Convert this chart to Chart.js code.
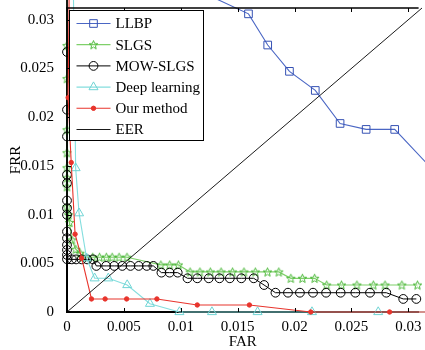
<!DOCTYPE html>
<html>
<head>
<meta charset="utf-8">
<script src="https://cdn.jsdelivr.net/npm/chart.js@4.4.0/dist/chart.umd.min.js"></script>
<style>
html, body { margin: 0; padding: 0; background: #fff; overflow: hidden; }
#wrap { width: 425px; height: 350px; position: relative; }
</style>
</head>
<body>
<div id="wrap"><canvas id="roc"></canvas></div>
<script>
// ---------- data ----------
var seriesNames = ['LLBP', 'SLGS', 'MOW-SLGS', 'Deep learning', 'Our method', 'EER'];

var llbpFar = [0.013, 0.01595, 0.01764, 0.01955, 0.02182, 0.0240, 0.02629, 0.0288, 0.0315];
var llbpFrr = [0.0322, 0.0306, 0.0274, 0.0247, 0.02274, 0.01935, 0.01874, 0.01874, 0.0154];

var slgsFar = [0, 0, 0, 0, 0, 0, 0, 0, 0,
	0.00014, 0.00022, 0.00043, 0.00077, 0.00114,
	0.0014, 0.00226, 0.00286, 0.00346, 0.00397, 0.00458, 0.00527,
	0.00825, 0.00902, 0.00979,
	0.01082, 0.01168, 0.0126, 0.01354, 0.01455, 0.01555, 0.01655, 0.01762, 0.01861,
	0.01967, 0.02069, 0.02176,
	0.02282, 0.02412, 0.02548, 0.02692, 0.02795, 0.02943, 0.0308];
var slgsFrr = [0.034, 0.02734, 0.02395, 0.0187, 0.01634, 0.0148, 0.01377, 0.01285, 0.01079,
	0.00997, 0.00918, 0.0074, 0.00644, 0.00603,
	0.00562, 0.00562, 0.00562, 0.00562, 0.00562, 0.00562, 0.00562,
	0.00483, 0.00483, 0.00483,
	0.00411, 0.00411, 0.00411, 0.00411, 0.00411, 0.00411, 0.00411, 0.00411, 0.00411,
	0.00346, 0.00346, 0.00346,
	0.00277, 0.00277, 0.00277, 0.00277, 0.00277, 0.00277, 0.00277];

var mowFar = [0, 0, 0, 0, 0, 0, 0, 0, 0, 0, 0, 0, 0, 0, 0,
	0.00043, 0.0008, 0.00129, 0.00177, 0.00229,
	0.00258, 0.00344, 0.00415, 0.00486, 0.00558, 0.0063, 0.00701, 0.00759,
	0.0083, 0.00902, 0.00973,
	0.01059, 0.01145, 0.01246, 0.0134, 0.01431, 0.01532, 0.01641,
	0.01732,
	0.01832, 0.01942, 0.02047, 0.02162, 0.02277, 0.02405, 0.02534, 0.02663, 0.02806,
	0.02955, 0.0307];
var mowFrr = [0.034, 0.02669, 0.02076, 0.01802, 0.01408, 0.01323, 0.01144, 0.01066, 0.00997, 0.00825, 0.00757, 0.00689, 0.00637, 0.00586, 0.00542,
	0.0054, 0.0054, 0.0054, 0.0054, 0.0054,
	0.00473, 0.00473, 0.00473, 0.00473, 0.00473, 0.00473, 0.00473, 0.00473,
	0.00404, 0.00404, 0.00404,
	0.00346, 0.00346, 0.00346, 0.00346, 0.00346, 0.00346, 0.00346,
	0.00277,
	0.00198, 0.00198, 0.00198, 0.00198, 0.00198, 0.00198, 0.00198, 0.00198, 0.00198,
	0.00134, 0.00134];

var deepFar = [0.00055, 0.00076, 0.00106, 0.00172, 0.00243, 0.00363, 0.00529, 0.00729, 0.00988, 0.01274, 0.01675, 0.02153, 0.02735, 0.0335];
var deepFrr = [0.034, 0.01477, 0.01014, 0.00552, 0.00346, 0.00346, 0.00277, 0.00085, 0, 0, 0, 0, 0, 0];

var oursFar = [0.0002, 0.0001, 0.00037, 0.00071, 0.00129, 0.00215, 0.00335, 0.00524, 0.0079, 0.01145, 0.01603, 0.02142, 0.02835, 0.0335];
var oursFrr = [0.034, 0.022, 0.01534, 0.00799, 0.00552, 0.00134, 0.00134, 0.00134, 0.00134, 0.00072, 0.00072, 0, 0, 0];

var eerFar = [0, 0.0312];
var eerFrr = [0, 0.0312];

var axisTicks = [0, 0.005, 0.01, 0.015, 0.02, 0.025, 0.03];

// ---------- helpers ----------
function toPoints(xs, ys) {
	var pts = [];
	for (var i = 0; i < xs.length; i++) pts.push({ x: xs[i], y: ys[i] });
	return pts;
}

function makeStar(color) {
	var c = document.createElement('canvas');
	c.width = 11; c.height = 11;
	var g = c.getContext('2d');
	g.beginPath();
	for (var k = 0; k < 10; k++) {
		var r = k % 2 ? 2 : 4.6;
		var a = -Math.PI / 2 + k * Math.PI / 5;
		var px = 5.5 + r * Math.cos(a), py = 5.9 + r * Math.sin(a);
		if (k) g.lineTo(px, py); else g.moveTo(px, py);
	}
	g.closePath();
	g.strokeStyle = color;
	g.lineWidth = 1;
	g.stroke();
	return c;
}

function fmtTick(v) {
	return String(+Number(v).toFixed(4));
}

var FONT = 'Liberation Serif';
var starImg = makeStar('#4cb83a');

// inward box ticks + top edge, like the original axes
var boxAxes = {
	id: 'boxAxes',
	afterDatasetsDraw: function(chart) {
		var ctx = chart.ctx, a = chart.chartArea;
		var xs = chart.scales.x, ys = chart.scales.y;
		ctx.save();
		ctx.strokeStyle = '#000';
		ctx.lineWidth = 1.6;
		ctx.beginPath();
		ctx.moveTo(a.left - 1, a.top);
		ctx.lineTo(a.right, a.top);
		ctx.stroke();
		ctx.lineWidth = 1;
		axisTicks.forEach(function(t) {
			var px = Math.round(xs.getPixelForValue(t)) + 0.5;
			ctx.beginPath();
			ctx.moveTo(px, a.bottom); ctx.lineTo(px, a.bottom - 4);
			ctx.moveTo(px, a.top); ctx.lineTo(px, a.top + 4);
			ctx.stroke();
			var py = Math.round(ys.getPixelForValue(t)) + 0.5;
			ctx.beginPath();
			ctx.moveTo(a.left, py); ctx.lineTo(a.left + 4, py);
			ctx.stroke();
		});
		ctx.restore();
	}
};

// framed legend in the upper left corner
var boxLegend = {
	id: 'boxLegend',
	afterDraw: function(chart) {
		var ctx = chart.ctx;
		var bx = 69.5, by = 10.5, bw = 134, bh = 130;
		ctx.save();
		ctx.fillStyle = '#fff';
		ctx.fillRect(bx, by, bw, bh);
		ctx.strokeStyle = '#000';
		ctx.lineWidth = 1;
		ctx.strokeRect(bx, by, bw, bh);
		ctx.font = '15px "' + FONT + '"';
		ctx.textBaseline = 'middle';
		chart.data.datasets.forEach(function(ds, i) {
			var y = by + 13 + i * 21.2;
			ctx.strokeStyle = ds.borderColor;
			ctx.lineWidth = ds.borderWidth;
			ctx.beginPath();
			ctx.moveTo(bx + 7, y); ctx.lineTo(bx + 41, y);
			ctx.stroke();
			if (ds.pointRadius > 0) {
				ctx.strokeStyle = ds.pointBorderColor;
				ctx.fillStyle = ds.pointBackgroundColor;
				ctx.lineWidth = 1;
				Chart.helpers.drawPoint(ctx, { pointStyle: ds.pointStyle, radius: ds.pointRadius, borderWidth: 1, rotation: 0 }, bx + 24, y);
			}
			ctx.fillStyle = '#000';
			ctx.fillText(ds.label, bx + 46, y + 1);
		});
		ctx.restore();
	}
};

function series(idx, xs, ys, line, mark, fill, style, radius, width, order) {
	return {
		label: seriesNames[idx],
		data: toPoints(xs, ys),
		borderColor: line,
		borderWidth: width,
		pointBorderColor: mark,
		pointBackgroundColor: fill,
		pointStyle: style,
		pointRadius: radius,
		pointBorderWidth: 1,
		tension: 0,
		clip: false,
		order: order
	};
}

var roc_chart = document.getElementById('roc').getContext('2d');
var roc = new Chart(roc_chart, {
	type: 'line',
	data: {
		datasets: [
			series(0, llbpFar, llbpFrr, '#4a66c4', '#3652b4', 'rgba(0,0,0,0)', 'rect', 5.4, 1.1, 5),
			series(1, slgsFar, slgsFrr, '#7fd06a', '#4cb83a', 'rgba(0,0,0,0)', starImg, 4.6, 1.2, 4),
			series(2, mowFar, mowFrr, '#000000', '#000000', 'rgba(0,0,0,0)', 'circle', 4.4, 1.0, 3),
			series(3, deepFar, deepFrr, '#84dede', '#6fd4d4', 'rgba(0,0,0,0)', 'triangle', 5.2, 1.1, 2),
			series(4, oursFar, oursFrr, '#e8342c', '#e8342c', '#e8342c', 'circle', 2.2, 1.1, 1),
			series(5, eerFar, eerFrr, '#000000', '#000000', '#000000', 'circle', 0, 0.9, 0)
		]
	},
	options: {
		responsive: true,
		maintainAspectRatio: false,
		animation: false,
		devicePixelRatio: 1,
		layout: { padding: { top: 8, left: 0, right: 0, bottom: 0 } },
		plugins: {
			legend: { display: false },
			tooltip: { enabled: false }
		},
		scales: {
			x: {
				type: 'linear',
				min: 0,
				max: 0.0309,
				grid: { display: false },
				border: { display: true, color: '#000', width: 2 },
				ticks: {
					stepSize: 0.005,
					includeBounds: false,
					color: '#000',
					padding: -2,
					maxRotation: 0,
					autoSkip: false,
					font: { family: FONT, size: 15 },
					callback: fmtTick
				},
				title: {
					display: true,
					text: 'FAR',
					color: '#000',
					font: { family: FONT, size: 15 },
					padding: { top: 0, bottom: -1 }
				},
				afterFit: function(s) {
					s.height = 38;
					s.paddingLeft = 0;
					s.paddingRight = 0;
				}
			},
			y: {
				min: 0,
				max: 0.0312,
				grid: { display: false },
				border: { display: true, color: '#000', width: 2 },
				ticks: {
					stepSize: 0.005,
					includeBounds: false,
					color: '#000',
					padding: 5,
					font: { family: FONT, size: 15 },
					callback: fmtTick
				},
				title: {
					display: true,
					text: 'FRR',
					color: '#000',
					font: { family: FONT, size: 15 },
					padding: { top: 7, bottom: 0 }
				},
				afterFit: function(s) {
					s.width = 67;
					s.paddingTop = 0;
					s.paddingBottom = 0;
				}
			}
		}
	},
	plugins: [boxAxes, boxLegend]
});
</script>
</body>
</html>
